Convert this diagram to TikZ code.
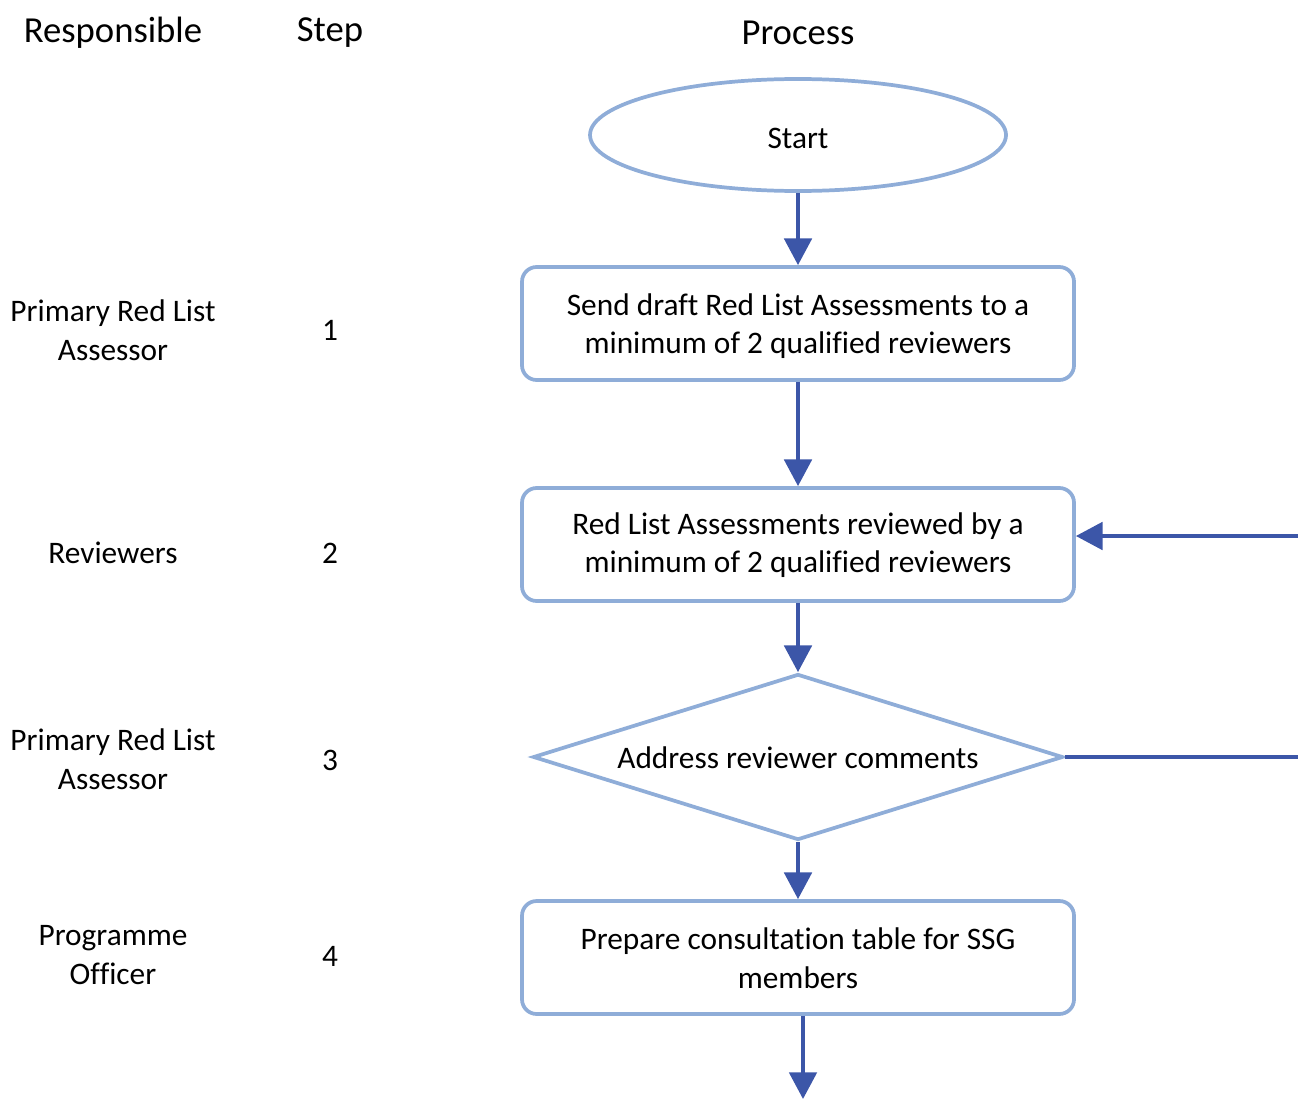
\documentclass[tikz,border=0pt]{standalone}
\usepackage{fontspec}
\setmainfont[Ligatures={NoCommon}]{Carlito}
\usetikzlibrary{shapes.geometric,arrows.meta}
\definecolor{outl}{HTML}{8FADD8}
\definecolor{arr}{HTML}{3C56A8}
\tikzset{
  px/.style={x=0.75pt,y=-0.75pt},
  hdr/.style={font=\fontsize{27.5}{33}\selectfont},
  lbl/.style={font=\fontsize{23.5}{29}\selectfont,align=center},
  procbox/.style={draw=outl,line width=2.8pt,rounded corners=11pt,minimum width=414pt,minimum height=84.75pt,inner sep=0pt},
  boxtxt/.style={font=\fontsize{23.5}{29}\selectfont,align=center,inner sep=0pt},
  conn/.style={draw=arr,line width=3pt,-{Triangle[length=20pt,width=20.5pt]}},
  plainconn/.style={draw=arr,line width=3pt},
}
\begin{document}
\begin{tikzpicture}[px]
\useasboundingbox (0,0) rectangle (1298,1099);
% headers
\node[hdr] (hR) at (113,33) {Responsible};
\node[hdr] (hS) at (330,33) {Step};
\node[hdr] (hP) at (798,33) {Process};
% left columns
\node[lbl] (r1) at (113,330) {Primary Red List\\Assessor};
\node[lbl] (s1) at (330,330) {1};
\node[lbl] (r2) at (113,553) {Reviewers};
\node[lbl] (s2) at (330,553) {2};
\node[lbl] (r3) at (113,759) {Primary Red List\\Assessor};
\node[lbl] (s3) at (330,760) {3};
\node[lbl] (r4) at (113,955) {Programme\\Officer};
\node[lbl] (s4) at (330,956) {4};
% process
\node[ellipse,draw=outl,line width=2.8pt,minimum width=312pt,minimum height=84pt] (start) at (798,135) {};
\node[boxtxt] (st) at (798,138) {Start};
\node[procbox] (b1) at (798,323.5) {};
\node[boxtxt] (t1) at (798,326) {Send draft Red List Assessments to a\\minimum of 2 qualified reviewers};
\node[procbox] (b2) at (798,544.5) {};
\node[boxtxt] (t2) at (798,545) {Red List Assessments reviewed by a\\minimum of 2 qualified reviewers};
\node[diamond,draw=outl,line width=2.8pt,minimum width=397.5pt,minimum height=124.5pt,inner sep=0pt] (d) at (798,757) {};
\node[boxtxt] (dt) at (798,758) {Address reviewer comments};
\node[procbox] (b4) at (798,957.5) {};
\node[boxtxt] (t4) at (798,958) {Prepare consultation table for SSG\\members};
% connectors
\coordinate (inR) at (1298,536);
\coordinate (outR) at (1298,757);
\coordinate (bot) at (803,1099);
\draw[conn] (start.south) -- (b1.north);
\draw[conn] (b1.south) -- (b2.north);
\draw[conn] (b2.south) -- (d.north);
\draw[conn] (d.south) -- (b4.north);
\draw[conn] (b4.south -| bot) -- (bot);
\draw[conn] (inR) -- (inR -| b2.east);
\draw[plainconn] (d.east) -- (outR);
\end{tikzpicture}
\end{document}
